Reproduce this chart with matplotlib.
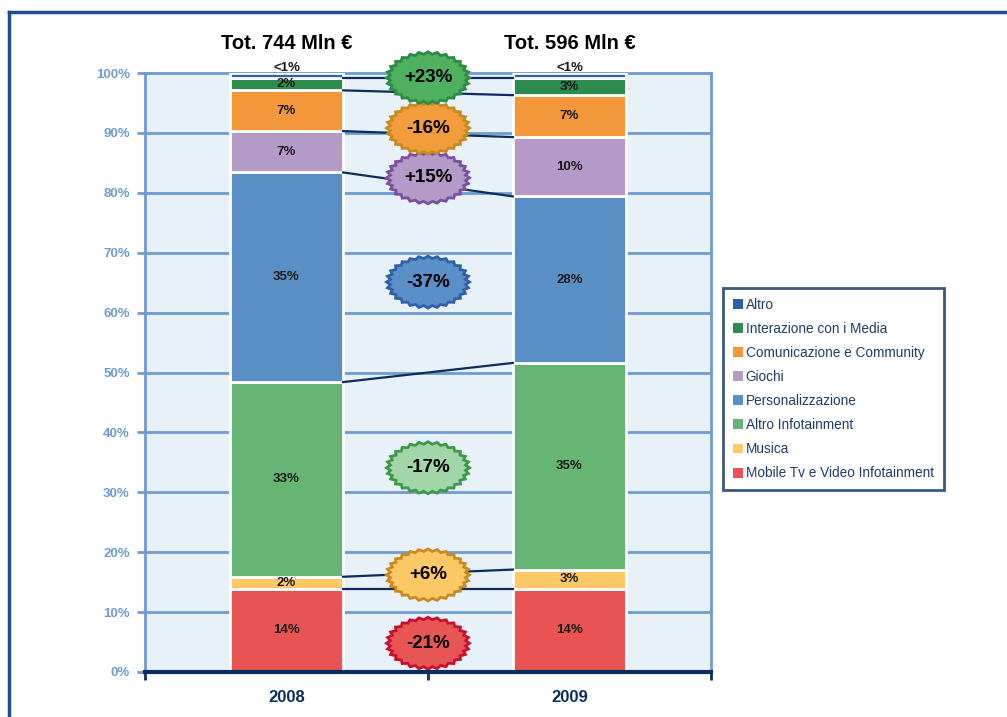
import numpy as np
import matplotlib
matplotlib.use("Agg")
import matplotlib.pyplot as plt
import matplotlib.transforms as mtransforms
from matplotlib.patches import Polygon, Patch
from matplotlib.lines import Line2D

plt.rcParams['font.family'] = ['Liberation Sans', 'DejaVu Sans']

# dati
anni = ["2008", "2009"]
totali = ["Tot. 744 Mln €", "Tot. 596 Mln €"]
segmenti = ["Mobile Tv e Video Infotainment", "Musica", "Altro Infotainment",
            "Personalizzazione", "Giochi", "Comunicazione e Community",
            "Interazione con i Media", "Altro"]
quote_2008 = [13.9, 2.0, 32.5, 35.0, 6.9, 6.8, 2.0, 0.9]
quote_2009 = [13.9, 3.2, 34.5, 27.8, 9.9, 7.0, 2.8, 0.9]
etichette_2008 = ["14%", "2%", "33%", "35%", "7%", "7%", "2%", "<1%"]
etichette_2009 = ["14%", "3%", "35%", "28%", "10%", "7%", "3%", "<1%"]
colori = ["#e85454", "#fdc966", "#66b574", "#5a8fc6", "#b49ac6", "#f2983a",
          "#2e8b4e", "#2e5ea8"]

# variazioni 2009 vs 2008
variazioni = ["-21%", "+6%", "-17%", "-37%", "+15%", "-16%", "+23%"]
pos_variazioni = [4.8, 16.2, 34.1, 65.1, 82.5, 90.8, 99.2]
fill_var = ["#e85555", "#fdc966", "#a2d5a8", "#5a8fc7", "#b59ac8", "#f39c3c", "#4fb060"]
bordo_var = ["#c8102e", "#c98a1f", "#3a9a4a", "#2f60a8", "#7a50a0", "#c98a1f", "#2e8b45"]

navy = "#0b2d5e"
azzurro = "#6f9bd0"

fig = plt.figure(figsize=(10.07, 7.17), dpi=100)
ax = fig.add_axes([145 / 1007, 45 / 717, 566 / 1007, 599 / 717])
ax.set_facecolor("#e9f1f8")
ax.set_xlim(-0.5, 1.5)
ax.set_ylim(0, 100)

# griglia
for g in range(10, 101, 10):
    ax.axhline(g, color=azzurro, lw=2, zorder=1, clip_on=False)

larg = 0.4
dati = [quote_2008, quote_2009]
etichette = [etichette_2008, etichette_2009]
cumulate = []
for i, q in enumerate(dati):
    base = 0
    tops = []
    for j, v in enumerate(q):
        ax.bar(i, v, bottom=base, width=larg, color=colori[j], edgecolor="white",
               linewidth=2, zorder=3)
        if etichette[i][j] == "<1%":
            ax.text(i, base + v + 0.9, etichette[i][j], ha="center", va="center",
                    fontsize=9.5, fontweight="bold", color="#1a1a1a", zorder=5)
        else:
            ax.text(i, base + v / 2, etichette[i][j], ha="center", va="center",
                    fontsize=9.5, fontweight="bold", color="#1a1a1a", zorder=5)
        base += v
        tops.append(base)
    cumulate.append(tops)
    ax.text(i, 105.0, totali[i], ha="center", va="center", fontsize=14.5,
            fontweight="bold", color="black", clip_on=False)

# linee di collegamento
for j in range(len(segmenti) - 1):
    ax.plot([larg / 2, 1 - larg / 2], [cumulate[0][j], cumulate[1][j]],
            color=navy, lw=1.6, zorder=4)

# stelle con le variazioni
n = 28
ang = np.linspace(0, 2 * np.pi, 2 * n, endpoint=False)
r = np.where(np.arange(2 * n) % 2 == 0, 1.0, 0.91)
sx = 0.415 * r * np.cos(ang)
sy = 0.26 * r * np.sin(ang)
for k, testo in enumerate(variazioni):
    tr = fig.dpi_scale_trans + mtransforms.ScaledTranslation(0.5, pos_variazioni[k], ax.transData)
    ax.add_patch(Polygon(np.column_stack([sx, sy]), closed=True, transform=tr,
                         facecolor=fill_var[k], edgecolor=bordo_var[k], lw=2,
                         zorder=6, clip_on=False))
    ax.text(0.5, pos_variazioni[k], testo, ha="center", va="center", fontsize=13.5,
            fontweight="bold", color="black", zorder=7)

# assi
ax.spines["top"].set_visible(False)
for s in ["left", "right"]:
    ax.spines[s].set_color(azzurro)
    ax.spines[s].set_linewidth(2)
ax.spines["bottom"].set_color(navy)
ax.spines["bottom"].set_linewidth(3)
ax.spines["bottom"].set_zorder(8)

ax.set_yticks(range(0, 101, 10))
ax.set_yticklabels([f"{v}%" for v in range(0, 101, 10)], fontsize=9.5,
                   fontweight="bold", color=azzurro)
ax.tick_params(axis="y", colors=azzurro, length=6, width=2, labelcolor=azzurro, pad=5)

ax.set_xticks([0, 1])
ax.set_xticklabels(anni, fontsize=12, fontweight="bold", color=navy)
ax.tick_params(axis="x", length=0, pad=13)
ax.set_xticks([-0.5, 0.5, 1.5], minor=True)
ax.tick_params(axis="x", which="minor", length=6, width=2, color=navy)

# legenda
maniglie = [Patch(facecolor=colori[j], edgecolor="none") for j in range(len(segmenti))][::-1]
leg = fig.legend(maniglie, segmenti[::-1], loc="upper left",
                 bbox_to_anchor=(723 / 1007, 1 - 288 / 717), frameon=True,
                 fontsize=9.8, handlelength=0.75, handleheight=0.75,
                 handletextpad=0.2, labelspacing=0.74, borderpad=0.72,
                 fancybox=False, borderaxespad=0)
leg.get_frame().set_edgecolor(navy)
leg.get_frame().set_linewidth(2)
for t in leg.get_texts():
    t.set_color("#1f3d6b")

# cornice
fig.add_artist(Line2D([9 / 1007, 1], [1 - 12 / 717] * 2, color="#1f4e8c", lw=2.5))
fig.add_artist(Line2D([9 / 1007] * 2, [0, 1 - 12 / 717], color="#1f4e8c", lw=2.5))

fig.savefig("out.png", dpi=100)
